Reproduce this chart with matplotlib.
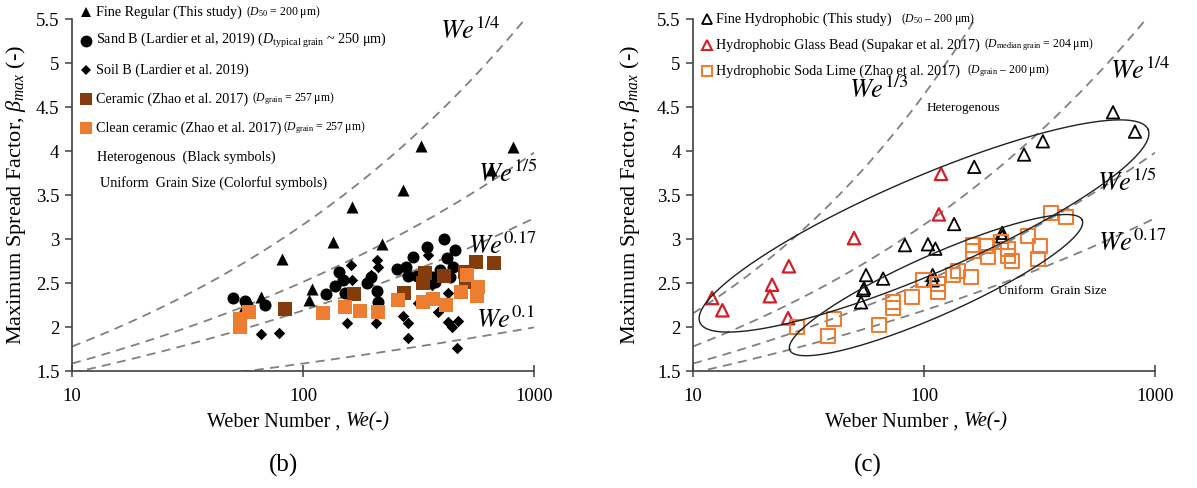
import numpy as np
import matplotlib
matplotlib.use("Agg")
import matplotlib.pyplot as plt
from matplotlib.ticker import NullLocator

plt.rcParams['font.family'] = ['Liberation Serif', 'DejaVu Serif']
plt.rcParams['mathtext.fontset'] = 'custom'
plt.rcParams['mathtext.rm'] = 'Liberation Serif'
plt.rcParams['mathtext.it'] = 'Liberation Serif:italic'
plt.rcParams['mathtext.bf'] = 'Liberation Serif:bold'

# ---------------- panel (b) data ----------------
fine_regular_we = [53.9, 65.8, 81.1, 106, 109, 135, 163, 220, 271, 324, 651, 811]
fine_regular_beta = [2.16, 2.34, 2.77, 2.31, 2.43, 2.97, 3.36, 2.94, 3.56, 4.06, 3.78, 4.05]

sand_b_we = [49.8, 56.1, 57.2, 68.5, 126, 138, 143, 149, 152, 189, 209, 211, 255, 279,
             285, 299, 312, 344, 362, 373, 392, 408, 420, 446, 455, 433, 197]
sand_b_beta = [2.33, 2.30, 2.25, 2.25, 2.38, 2.47, 2.63, 2.53, 2.39, 2.50, 2.41, 2.28, 2.66, 2.68,
               2.58, 2.80, 2.58, 2.91, 2.57, 2.51, 2.65, 3.00, 2.78, 2.68, 2.88, 2.57, 2.57]

soil_b_we = [65.8, 78.7, 155, 161, 163, 197, 209, 211, 207, 271, 285, 285, 315, 384,
             424, 442, 469, 464, 348, 362, 424]
soil_b_beta = [1.92, 1.93, 2.05, 2.70, 2.53, 2.59, 2.76, 2.68, 2.05, 2.13, 2.05, 1.88, 2.27, 2.17,
               2.06, 2.00, 2.07, 1.76, 2.82, 2.48, 2.39]

ceramic_we = [83.6, 166, 274, 331, 337, 408, 503, 508, 561, 671]
ceramic_beta = [2.20, 2.38, 2.39, 2.50, 2.61, 2.58, 2.63, 2.51, 2.74, 2.73]

clean_ceramic_we = [53.4, 53.4, 58.4, 122, 152, 177, 211, 258, 331, 365, 416, 483, 513, 573, 567]
clean_ceramic_beta = [2.09, 2.00, 2.17, 2.16, 2.23, 2.18, 2.17, 2.31, 2.28, 2.32, 2.25, 2.40, 2.59, 2.46, 2.35]

# ---------------- panel (c) data ----------------
fine_hydro_we = [53.4, 54.5, 55.0, 56.1, 66.5, 82.7, 104, 112, 109, 109, 135, 165, 218, 218,
                 271, 327, 658, 819]
fine_hydro_beta = [2.28, 2.42, 2.44, 2.59, 2.55, 2.93, 2.94, 2.89, 2.59, 2.53, 3.17, 3.82, 3.07, 3.03,
                   3.96, 4.11, 4.44, 4.22]

glass_bead_we = [12.1, 13.4, 21.5, 22.0, 26.0, 25.8, 49.8, 116, 118.5]
glass_bead_beta = [2.33, 2.19, 2.35, 2.48, 2.69, 2.10, 3.01, 3.28, 3.74]

soda_lime_we = [28.2, 38.4, 40.8, 63.8, 73.4, 73.4, 88.7, 99, 115, 115, 133.5, 140, 160, 163, 163,
                185.5, 189, 215, 231, 231, 240, 282, 318, 312, 355, 412]
soda_lime_beta = [2.00, 1.90, 2.09, 2.02, 2.28, 2.22, 2.34, 2.53, 2.49, 2.40, 2.59, 2.64, 2.57, 2.93, 2.86,
                  2.92, 2.80, 2.97, 2.89, 2.81, 2.75, 3.03, 2.92, 2.77, 3.30, 3.25]

# power-law reference curves beta = We^n
exps_b = [1 / 4, 1 / 5, 0.17, 0.1]
labels_b = [r'$We^{1/4}$', r'$We^{1/5}$', r'$We^{0.17}$', r'$We^{0.1}$']
exps_c = [1 / 3, 1 / 4, 1 / 5, 0.17]
labels_c = [r'$We^{1/3}$', r'$We^{1/4}$', r'$We^{1/5}$', r'$We^{0.17}$']

x_ticks = [10, 100, 1000]
y_ticks = [1.5, 2, 2.5, 3, 3.5, 4, 4.5, 5, 5.5]

BROWN = '#843C0C'
ORANGE = '#ED7D31'
RED = '#D0202A'
GREY = '#808080'

W, H = 1197, 488
fig = plt.figure(figsize=(W / 100, H / 100), dpi=100)
AX_W, AX_H = 462, 352
axL = fig.add_axes([72 / W, 1 - 371 / H, AX_W / W, AX_H / H])
axR = fig.add_axes([693 / W, 1 - 371 / H, AX_W / W, AX_H / H])


def style_axes(ax, xlab_x, ylab_x):
    ax.set_xscale('log')
    ax.set_xlim(10, 1000)
    ax.set_ylim(1.5, 5.5)
    ax.set_xticks(x_ticks)
    ax.set_xticklabels([str(v) for v in x_ticks])
    ax.xaxis.set_minor_locator(NullLocator())
    ax.set_yticks(y_ticks)
    ax.set_yticklabels([f'{v:g}' for v in y_ticks])
    for s in ('top', 'right'):
        ax.spines[s].set_visible(False)
    for s in ('left', 'bottom'):
        ax.spines[s].set_color('#404040')
        ax.spines[s].set_linewidth(1.2)
    ax.tick_params(axis='y', direction='out', length=5, width=1.1, color='#404040',
                   labelsize=13.5, pad=4)
    ax.tick_params(axis='x', direction='inout', length=9, width=1.1, color='#404040',
                   labelsize=13.5, pad=8)
    # x-axis title: upright words followed by the italic symbol
    t = ax.text(xlab_x, -0.158, 'Weber Number , ', transform=ax.transAxes, fontsize=14.5,
                ha='left', va='baseline')
    ax.annotate('We(-)', xy=(1, 0), xycoords=t, fontsize=14.5, style='italic',
                ha='left', va='bottom')
    ax.set_ylabel(r'Maximum Spread Factor, $\beta_{max}$ (-)', fontsize=16)
    ax.yaxis.set_label_coords(ylab_x, 0.5)


def draw_curves(ax, exps):
    we = np.logspace(1, 3, 400)
    for n in exps:
        ax.plot(we, we ** n, ls=(0, (5, 3.5)), color=GREY, lw=1.3, zorder=1)


def curve_labels(ax, labels, positions):
    for lab, (x, y) in zip(labels, positions):
        ax.text(x, y, lab, transform=ax.transAxes, fontsize=19, ha='center', va='center',
                math_fontfamily='stix', clip_on=False)


def legend_row(ax, x_mark, x_text, y, main, small=None, marker=None, size=10.2, gap=3):
    if marker is not None:
        ax.plot([x_mark], [y], transform=ax.transAxes, clip_on=False, ls='none', **marker)
    t = ax.text(x_text, y, main, transform=ax.transAxes, fontsize=size, ha='left', va='center')
    if small:
        ax.annotate(small, xy=(1, 0.5), xycoords=t, xytext=(gap, 0), textcoords='offset points',
                    fontsize=8.5, ha='left', va='center')


def draw_ellipse(ax, cx, cy, a, b, ang_deg):
    t = np.linspace(0, 2 * np.pi, 500)
    th = np.radians(ang_deg)
    px = a * np.cos(t) * np.cos(th) - b * np.sin(t) * np.sin(th)
    py = a * np.cos(t) * np.sin(th) + b * np.sin(t) * np.cos(th)
    ax.plot(cx + px / AX_W, cy + py / AX_H, transform=ax.transAxes, color='#202020',
            lw=1.0, clip_on=False, zorder=5)


fy = lambda py: (371 - py) / AX_H

# ---------------- panel (b) ----------------
style_axes(axL, 0.292, -0.095)
draw_curves(axL, exps_b)
axL.scatter(fine_regular_we, fine_regular_beta, marker='^', s=75, color='black', lw=0, zorder=3)
axL.scatter(sand_b_we, sand_b_beta, marker='o', s=75, color='black', lw=0, zorder=3)
axL.scatter(soil_b_we, soil_b_beta, marker='D', s=34, color='black', lw=0, zorder=3)
axL.scatter(ceramic_we, ceramic_beta, marker='s', s=105, color=BROWN, lw=0, zorder=4)
axL.scatter(clean_ceramic_we, clean_ceramic_beta, marker='s', s=105, color=ORANGE, lw=0, zorder=4)
curve_labels(axL, labels_b, [(0.861, 0.966), (0.944, 0.560), (0.931, 0.355), (0.937, 0.145)])

legend_row(axL, 0.030, 0.052, fy(12), 'Fine Regular (This study)', r'$(D_{50}$ = 200 μm)',
           dict(marker='^', ms=7.5, color='black', mew=0))
legend_row(axL, 0.030, 0.052, fy(41),
           r'Sand B (Lardier et al, 2019) ($D_{\mathrm{typical\ grain}}$ ~ 250 μm)', None,
           dict(marker='o', ms=8.5, color='black', mew=0))
legend_row(axL, 0.030, 0.052, fy(70), 'Soil B (Lardier et al. 2019)', None,
           dict(marker='D', ms=5, color='black', mew=0))
legend_row(axL, 0.030, 0.052, fy(99), 'Ceramic (Zhao et al. 2017)', r'($D_{\mathrm{grain}}$ = 257 μm)',
           dict(marker='s', ms=8.5, color=BROWN, mew=0))
legend_row(axL, 0.030, 0.052, fy(128), 'Clean ceramic (Zhao et al. 2017)',
           r'($D_{\mathrm{grain}}$ = 257 μm)', dict(marker='s', ms=8.5, color=ORANGE, mew=0), gap=1)
legend_row(axL, 0.030, 0.054, fy(157), 'Heterogenous  (Black symbols)')
legend_row(axL, 0.030, 0.060, fy(183), 'Uniform  Grain Size (Colorful symbols)')

# ---------------- panel (c) ----------------
style_axes(axR, 0.286, -0.110)
draw_curves(axR, exps_c)
axR.scatter(glass_bead_we, glass_bead_beta, marker='^', s=80, facecolor='none', edgecolor=RED,
            lw=1.6, zorder=3)
axR.scatter(fine_hydro_we, fine_hydro_beta, marker='^', s=80, facecolor='none', edgecolor='black',
            lw=1.3, zorder=3)
axR.scatter(soda_lime_we, soda_lime_beta, marker='s', s=100, facecolor='none', edgecolor=ORANGE,
            lw=1.5, zorder=3)
curve_labels(axR, labels_c, [(0.403, 0.800), (0.968, 0.852), (0.939, 0.534), (0.952, 0.364)])

draw_ellipse(axR, 0.500, 0.412, 244, 48, 23.3)
draw_ellipse(axR, 0.526, 0.244, 160, 30, 24)
axR.text(0.506, 0.747, 'Heterogenous', transform=axR.transAxes, fontsize=9.5, ha='left', va='center')
axR.text(0.660, 0.227, 'Uniform  Grain Size', transform=axR.transAxes, fontsize=9.5, ha='left', va='center')

legend_row(axR, 0.030, 0.050, fy(19), 'Fine Hydrophobic (This study)', r'($D_{50}$ – 200 μm)',
           dict(marker='^', ms=7, mfc='none', mec='black', mew=1.3), size=10.2, gap=7)
legend_row(axR, 0.030, 0.050, fy(45), 'Hydrophobic Glass Bead (Supakar et al. 2017)',
           r'($D_{\mathrm{median\ grain}}$ = 204 μm)',
           dict(marker='^', ms=7, mfc='none', mec=RED, mew=1.5), size=10.2, gap=3)
legend_row(axR, 0.030, 0.050, fy(71), 'Hydrophobic Soda Lime (Zhao et al. 2017)',
           r'($D_{\mathrm{grain}}$ – 200 μm)',
           dict(marker='s', ms=7, mfc='none', mec=ORANGE, mew=1.5), size=10.2, gap=5)

fig.text(283 / W, 1 - 465 / H, '(b)', fontsize=18, ha='center', va='center')
fig.text(868 / W, 1 - 465 / H, '(c)', fontsize=18, ha='center', va='center')

fig.savefig('out.png', dpi=100)
